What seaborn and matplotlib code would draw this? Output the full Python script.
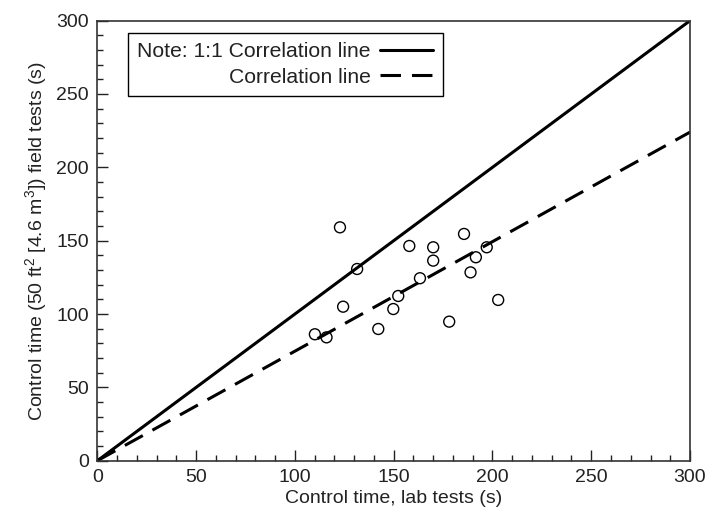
import matplotlib
matplotlib.use("Agg")
import matplotlib.pyplot as plt
from matplotlib.ticker import MultipleLocator
import seaborn as sns
import pandas as pd

# Data
lab_times = [122.8, 131.5, 157.9, 170.0, 170.0, 124.4, 152.3, 149.8, 163.3,
             110.1, 116.0, 142.2, 185.6, 197.1, 191.6, 188.9, 202.9, 178.1]
field_times = [159.1, 130.7, 146.4, 145.5, 136.4, 105.0, 112.3, 103.4, 124.4,
               86.2, 84.1, 89.8, 154.6, 145.5, 138.7, 128.4, 109.6, 94.8]
line_x = [0, 300]
one_to_one_y = [0, 300]
corr_y = [0, 224]

sns.set_theme(style="ticks")
plt.rcParams["font.family"] = ["Liberation Sans", "DejaVu Sans"]
plt.rcParams["mathtext.fontset"] = "custom"
plt.rcParams["mathtext.rm"] = "Liberation Sans"
plt.rcParams["mathtext.it"] = "Liberation Sans"
plt.rcParams["mathtext.default"] = "regular"

fig = plt.figure(figsize=(7.16, 5.27), dpi=100)
ax = fig.add_axes([0.136, 0.1258, 0.8277, 0.835])

pts = pd.DataFrame({"lab": lab_times, "field": field_times})
lines = pd.DataFrame({"x": line_x, "one": one_to_one_y, "corr": corr_y})

sns.lineplot(data=lines, x="x", y="one", ax=ax, color="black", lw=2.2,
             label="Note: 1:1 Correlation line")
sns.lineplot(data=lines, x="x", y="corr", ax=ax, color="black", lw=2.2,
             dashes=False, label="Correlation line")
ax.lines[-1].set_dashes((6.7, 3.6))
sns.scatterplot(data=pts, x="lab", y="field", ax=ax, marker="o", s=62,
                facecolor="none", edgecolor="black", linewidth=1.0, zorder=3)

ax.set_xlim(0, 300)
ax.set_ylim(0, 300)
ax.xaxis.set_major_locator(MultipleLocator(50))
ax.yaxis.set_major_locator(MultipleLocator(50))
ax.xaxis.set_minor_locator(MultipleLocator(10))
ax.yaxis.set_minor_locator(MultipleLocator(10))
ax.tick_params(which="major", direction="in", length=8, width=1.0,
               labelsize=14, colors="#222222", pad=6)
ax.tick_params(which="minor", direction="in", length=4.3, width=1.0,
               colors="#222222")
for s in ax.spines.values():
    s.set_linewidth(1.2)
    s.set_color("#333333")
    s.set_visible(True)

ax.set_xlabel("Control time, lab tests (s)", fontsize=14, color="#222222", labelpad=3)
ax.set_ylabel(r"Control time (50 ft$^2$ [4.6 m$^3$]) field tests (s)",
              fontsize=14, color="#222222", labelpad=5)

leg = ax.legend(loc="upper left", bbox_to_anchor=(0.0515, 0.972),
                markerfirst=False, fontsize=15.2, frameon=True, fancybox=False,
                handlelength=2.5, handletextpad=0.45, borderpad=0.45,
                labelspacing=0.3, borderaxespad=0)
leg.get_frame().set_edgecolor("black")
leg.get_frame().set_linewidth(1.0)
leg.get_frame().set_alpha(1)
for t in leg.get_texts():
    t.set_color("#222222")

fig.savefig("out.png", dpi=100)
